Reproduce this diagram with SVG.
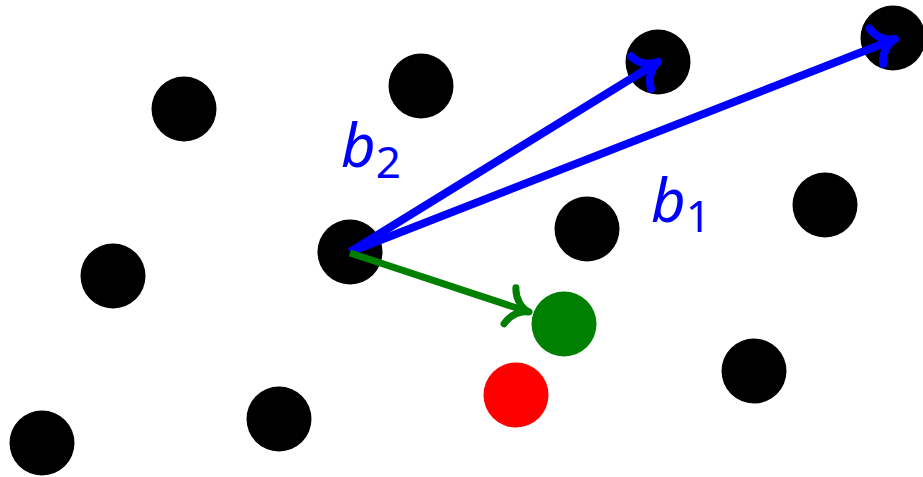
<svg xmlns="http://www.w3.org/2000/svg" width="923" height="477" viewBox="0 0 923 477">
<style>
.pt{fill:#000}
.blue{stroke:#0000ff;stroke-width:8;fill:none}
.green{stroke:#008000;stroke-width:7;fill:none}
.head{stroke-linecap:round;stroke-linejoin:round}
.lbl{font-family:"Noto Sans",sans-serif;font-style:italic;fill:#0000ff}
</style>
<defs>
<path id="hd" d="M -20,-19 C -17,-8 -8,-1 0,0 C -8,1 -17,8 -20,19"/>
</defs>
<rect width="923" height="477" fill="#fff"/>
<g id="p1"><circle class="pt" cx="184" cy="109" r="32.5"/></g>
<g id="p2"><circle class="pt" cx="421" cy="86" r="32.5"/></g>
<g id="p3"><circle class="pt" cx="658" cy="62" r="32.5"/></g>
<g id="p4"><circle class="pt" cx="893" cy="38" r="32.5"/></g>
<g id="p5"><circle class="pt" cx="113" cy="276" r="32.5"/></g>
<g id="p6"><circle class="pt" cx="350" cy="252" r="32.5"/></g>
<g id="p7"><circle class="pt" cx="587" cy="229" r="32.5"/></g>
<g id="p8"><circle class="pt" cx="825" cy="205" r="32.5"/></g>
<g id="p9"><circle class="pt" cx="42" cy="443" r="32.5"/></g>
<g id="p10"><circle class="pt" cx="279" cy="419" r="32.5"/></g>
<g id="p11"><circle class="pt" cx="754" cy="371" r="32.5"/></g>
<g id="target"><circle cx="564" cy="324" r="32.5" fill="#008000"/></g>
<g id="red"><circle cx="516" cy="395" r="32.5" fill="#ff0000"/></g>
<g id="connectors">
<line class="blue" x1="350" y1="252" x2="658" y2="62"/>
<use href="#hd" class="blue head" transform="translate(658,62) rotate(-31.7)"/>
<line class="blue" x1="350" y1="252" x2="895" y2="39"/>
<use href="#hd" class="blue head" transform="translate(895,39) rotate(-21.3)"/>
<line class="green" x1="350" y1="253" x2="529" y2="312"/>
<use href="#hd" class="green head" transform="translate(529,312) rotate(18.2)"/>
</g>
<g id="labels">
<text class="lbl" x="341" y="167" font-size="60">b<tspan font-size="44" font-style="normal" dy="11">2</tspan></text>
<text class="lbl" x="651" y="222" font-size="60">b<tspan font-size="44" font-style="normal" dy="10">1</tspan></text>
</g>
</svg>
